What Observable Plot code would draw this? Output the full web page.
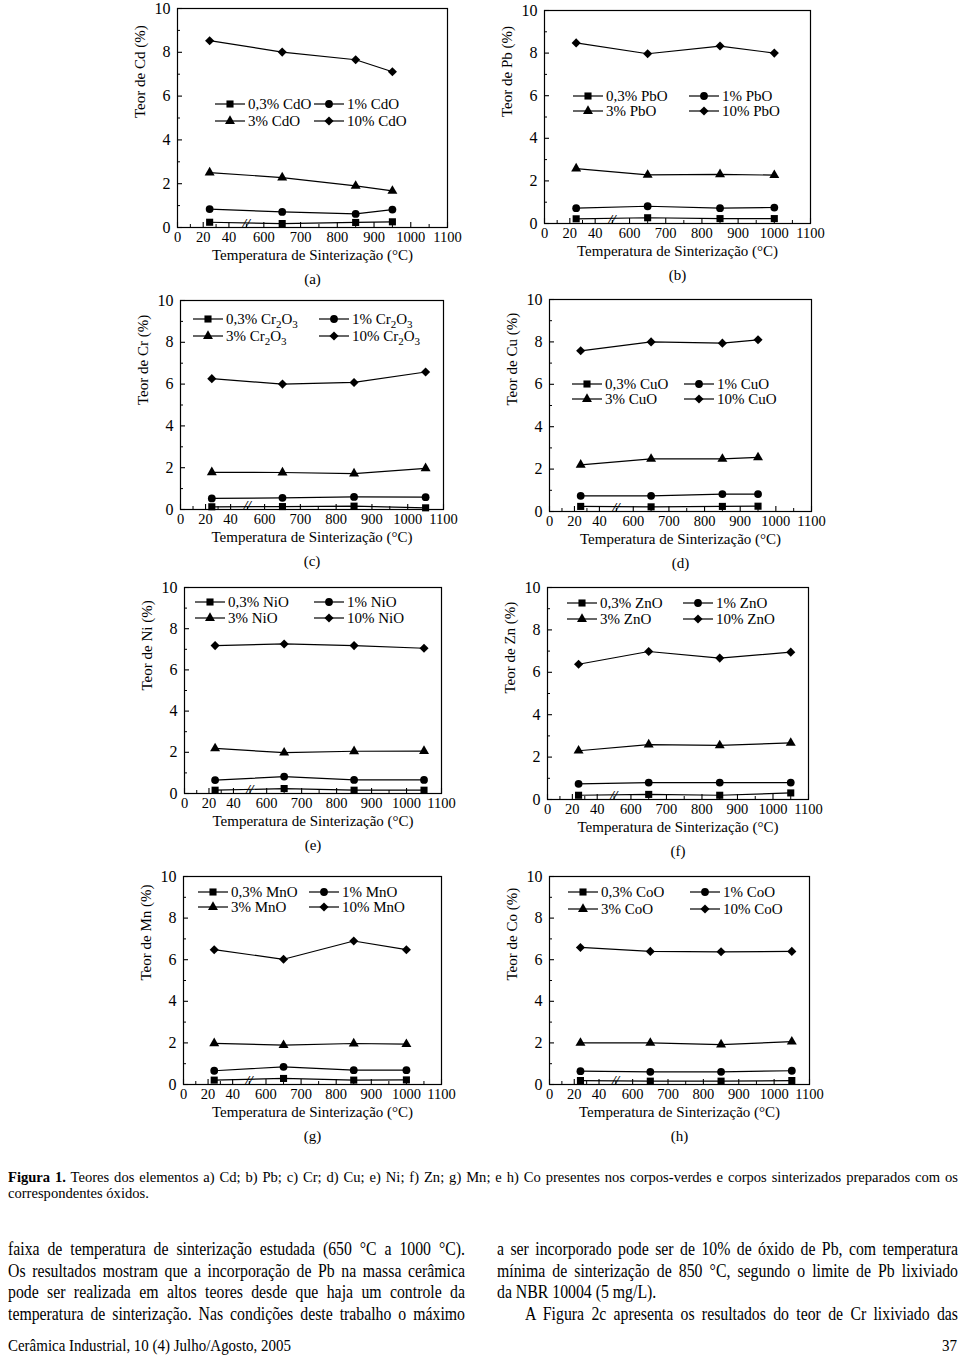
<!DOCTYPE html>
<html><head><meta charset="utf-8">
<script src="https://cdn.jsdelivr.net/npm/d3@7"></script>
<script src="https://cdn.jsdelivr.net/npm/@observablehq/plot@0.6"></script>
<style>
html,body{margin:0;padding:0;background:#fff;}
#page{position:relative;width:960px;height:1356px;background:#fff;font-family:"Liberation Serif","Times New Roman",serif;color:#000;overflow:hidden;}
.panel{position:absolute;}
.line{position:absolute;text-align:justify;text-align-last:justify;transform-origin:0 0;white-space:nowrap;}
.left{text-align:left;text-align-last:left;}
</style></head>
<body><div id="page"></div>
<script>
// ---------- data ----------
const seriesPct = ["0,3%", "1%", "3%", "10%"];
const xTickLabels = [0, 20, 40, 600, 700, 800, 900, 1000, 1100];
const yTickLabels = [0, 2, 4, 6, 8, 10];
const yMinorTicks = [1, 3, 5, 7, 9];

const tCd = [25, 650, 850, 950];
const cd03 = [0.24, 0.18, 0.23, 0.26];
const cd1  = [0.84, 0.71, 0.62, 0.82];
const cd3  = [2.51, 2.28, 1.90, 1.67];
const cd10 = [8.53, 8.01, 7.66, 7.11];

const tPb = [25, 650, 850, 1000];
const pb03 = [0.22, 0.27, 0.23, 0.23];
const pb1  = [0.72, 0.81, 0.72, 0.75];
const pb3  = [2.58, 2.28, 2.31, 2.27];
const pb10 = [8.48, 7.97, 8.33, 8.00];

const tCr = [25, 650, 850, 1050];
const cr03 = [0.13, 0.14, 0.16, 0.08];
const cr1  = [0.53, 0.56, 0.60, 0.59];
const cr3  = [1.78, 1.77, 1.72, 1.97];
const cr10 = [6.26, 6.00, 6.08, 6.58];

const tCu = [25, 650, 850, 950];
const cu03 = [0.24, 0.22, 0.24, 0.25];
const cu1  = [0.74, 0.74, 0.82, 0.82];
const cu3  = [2.20, 2.48, 2.48, 2.55];
const cu10 = [7.58, 8.00, 7.94, 8.10];

const tNi = [25, 650, 850, 1050];
const ni03 = [0.16, 0.24, 0.16, 0.16];
const ni1  = [0.65, 0.82, 0.66, 0.66];
const ni3  = [2.19, 1.98, 2.05, 2.06];
const ni10 = [7.18, 7.26, 7.18, 7.05];

const tZn = [25, 650, 850, 1050];
const zn03 = [0.20, 0.24, 0.20, 0.31];
const zn1  = [0.74, 0.80, 0.80, 0.80];
const zn3  = [2.30, 2.59, 2.55, 2.67];
const zn10 = [6.38, 6.98, 6.67, 6.95];

const tMn = [25, 650, 850, 1000];
const mn03 = [0.21, 0.29, 0.21, 0.22];
const mn1  = [0.66, 0.85, 0.69, 0.69];
const mn3  = [1.98, 1.89, 1.97, 1.94];
const mn10 = [6.48, 6.02, 6.90, 6.48];

const tCo = [25, 650, 850, 1050];
const co03 = [0.19, 0.16, 0.16, 0.19];
const co1  = [0.64, 0.61, 0.61, 0.66];
const co3  = [2.00, 2.00, 1.92, 2.06];
const co10 = [6.59, 6.40, 6.38, 6.40];

const xTitle = "Temperatura de Sinterização (°C)";
const captionBold = "Figura 1.";
const captionText = " Teores dos elementos a) Cd; b) Pb; c) Cr; d) Cu; e) Ni; f) Zn; g) Mn; e h) Co presentes nos corpos-verdes e corpos sinterizados preparados com os";
const captionLine2 = "correspondentes óxidos.";
const bodyCol1 = [
  "faixa de temperatura de sinterização estudada (650 °C a 1000 °C).",
  "Os resultados mostram que a incorporação de Pb na massa cerâmica",
  "pode ser realizada em altos teores desde que haja um controle da",
  "temperatura de sinterização. Nas condições deste trabalho o máximo"
];
const bodyCol2 = [
  "a ser incorporado pode ser de 10% de óxido de Pb, com temperatura",
  "mínima de sinterização de 850 °C, segundo o limite de Pb lixiviado",
  "da NBR 10004 (5 mg/L).",
  "A Figura 2c apresenta os resultados do teor de Cr lixiviado das"
];
const footerLeft = "Cerâmica Industrial, 10 (4) Julho/Agosto, 2005";
const footerRight = "37";

// ---------- panel definitions (data refs + layout) ----------
const panels = [
  {letter:"(a)", el:"Cd", ox:[["CdO",0]], t:tCd, s:[cd03,cd1,cd3,cd10], L:177, T:8,   R:447, B:227, lx:[38,137], ly:[96,113]},
  {letter:"(b)", el:"Pb", ox:[["PbO",0]], t:tPb, s:[pb03,pb1,pb3,pb10], L:544, T:10,  R:810, B:223, lx:[29,145], ly:[86,101]},
  {letter:"(c)", el:"Cr", ox:[["Cr",0],["2",1],["O",0],["3",1]], t:tCr, s:[cr03,cr1,cr3,cr10], L:180, T:300, R:443, B:509, lx:[13,139], ly:[19,36]},
  {letter:"(d)", el:"Cu", ox:[["CuO",0]], t:tCu, s:[cu03,cu1,cu3,cu10], L:549, T:299, R:811, B:511, lx:[23,135], ly:[85,100]},
  {letter:"(e)", el:"Ni", ox:[["NiO",0]], t:tNi, s:[ni03,ni1,ni3,ni10], L:184, T:587, R:441, B:793, lx:[11,130], ly:[15,31]},
  {letter:"(f)", el:"Zn", ox:[["ZnO",0]], t:tZn, s:[zn03,zn1,zn3,zn10], L:547, T:587, R:808, B:799, lx:[20,136], ly:[16,32]},
  {letter:"(g)", el:"Mn", ox:[["MnO",0]], t:tMn, s:[mn03,mn1,mn3,mn10], L:183, T:876, R:441, B:1084, lx:[15,126], ly:[16,31]},
  {letter:"(h)", el:"Co", ox:[["CoO",0]], t:tCo, s:[co03,co1,co3,co10], L:549, T:876, R:809, B:1084, lx:[19,141], ly:[16,33]}
];

// broken x axis: 0–40 region, then 600–1100
function pos(t) { return t <= 40 ? t * 3.5 : 235 + (t - 600); }
const majorPos = xTickLabels.map(pos);
const minorPos = d3.pairs(majorPos).map(([a, b]) => (a + b) / 2);
const labelByPos = new Map(majorPos.map((p, i) => [p, String(xTickLabels[i])]));
const breakPos = (pos(40) + pos(600)) / 2;

const symbols = ["square", "circle", "triangle", "diamond2"];
const symbolR = [4.0, 3.9, 3.7, 4.1];
const d3Symbols = [d3.symbolSquare, d3.symbolCircle, d3.symbolTriangle, d3.symbolDiamond2];

const page = document.getElementById("page");
const mL = 58, mR = 12, mT = 12, mB = 70;
const serif = '"Liberation Serif", "Times New Roman", serif';

panels.forEach(p => {
  const fw = p.R - p.L, fh = p.B - p.T;
  const rows = [];
  p.s.forEach((vals, k) => vals.forEach((v, i) => rows.push({k, t: p.t[i], v})));
  const marks = [
    Plot.frame({stroke: "black", strokeWidth: 1.2}),
    Plot.axisX(majorPos, {tickSize: -5, tickPadding: 9, tickFormat: d => labelByPos.get(d), fontSize: 14.5, label: null, strokeWidth: 1.1}),
    Plot.axisX(minorPos, {tickSize: -3, tickPadding: 0, tickFormat: () => "", label: null, strokeWidth: 1}),
    Plot.axisY(yTickLabels, {tickSize: -5, tickPadding: 12, fontSize: 16, label: null, strokeWidth: 1.1}),
    Plot.axisY(yMinorTicks, {tickSize: -3, tickPadding: 0, tickFormat: () => "", label: null, strokeWidth: 1}),
    Plot.text([breakPos], {x: d => d, frameAnchor: "bottom", text: () => "//", fontSize: 13, fontStyle: "italic", fontWeight: "bold", dy: -1}),
    Plot.text([xTitle], {text: d => d, frameAnchor: "bottom", dy: 32, fontSize: 15}),
    Plot.text([p.letter], {text: d => d, frameAnchor: "bottom", dy: 56, fontSize: 15}),
    Plot.text([`Teor de ${p.el} (%)`], {text: d => d, frameAnchor: "left", rotate: -90, dx: -37, fontSize: 15})
  ];
  p.s.forEach((vals, k) => {
    const d = rows.filter(r => r.k === k);
    marks.push(Plot.line(d, {x: r => pos(r.t), y: "v", stroke: "black", strokeWidth: 1.2}));
    marks.push(Plot.dot(d, {x: r => pos(r.t), y: "v", symbol: symbols[k], r: symbolR[k], fill: "black", stroke: "none"}));
  });
  const svg = Plot.plot({
    width: mL + fw + mR, height: mT + fh + mB,
    marginLeft: mL, marginRight: mR, marginTop: mT, marginBottom: mB,
    style: {fontFamily: serif, fontSize: "15px", background: "transparent", color: "black", overflow: "visible"},
    x: {domain: [0, pos(1100)], axis: null},
    y: {domain: [0, 10], axis: null},
    marks
  });
  // legend
  const g = d3.select(svg).append("g")
    .attr("transform", `translate(${mL},${mT})`)
    .attr("font-family", serif)
    .attr("font-size", 15)
    .attr("text-anchor", "start");
  const items = [[0, 0], [1, 0], [0, 1], [1, 1]]; // [col,row] for each series
  items.forEach(([c, r], k) => {
    const x0 = p.lx[c], y0 = p.ly[r];
    g.append("line").attr("x1", x0).attr("x2", x0 + 30).attr("y1", y0).attr("y2", y0)
      .attr("stroke", "black").attr("stroke-width", 1.2);
    g.append("path").attr("transform", `translate(${x0 + 15},${y0})`)
      .attr("d", d3.symbol(d3Symbols[k], Math.PI * symbolR[k] * symbolR[k])()).attr("fill", "black");
    const txt = g.append("text").attr("x", x0 + 33).attr("y", y0).attr("dy", "0.35em")
      .attr("text-anchor", "start").attr("fill", "black");
    txt.append("tspan").text(seriesPct[k] + " ");
    let shifted = false;
    p.ox.forEach(([s, sub]) => {
      if (sub) { txt.append("tspan").attr("font-size", 11).attr("dy", 4).text(s); shifted = true; }
      else { txt.append("tspan").attr("dy", shifted ? -4 : 0).text(s); shifted = false; }
    });
  });
  const wrap = document.createElement("div");
  wrap.className = "panel";
  wrap.style.left = (p.L - mL) + "px";
  wrap.style.top = (p.T - mT) + "px";
  wrap.appendChild(svg);
  page.appendChild(wrap);
});

// caption and running text
function addLine(html, left, top, width, fontSize, scale, cls) {
  const d = document.createElement("div");
  d.className = "line" + (cls ? " " + cls : "");
  d.style.left = left + "px";
  d.style.top = top + "px";
  d.style.width = (width / scale) + "px";
  d.style.fontSize = fontSize + "px";
  d.style.lineHeight = "1";
  d.style.transform = `scaleX(${scale})`;
  d.innerHTML = html;
  page.appendChild(d);
}
addLine(`<b>${captionBold}</b>${captionText}`, 8, 1169, 950, 15.5, 0.94);
addLine(captionLine2, 8, 1185, 950, 15.5, 0.94, "left");
bodyCol1.forEach((s, i) => addLine(s, 8, 1239 + i * 21.7, 457, 19.5, 0.81));
bodyCol2.forEach((s, i) => {
  if (i === 2) addLine(s, 497, 1239 + i * 21.7, 461, 19.5, 0.81, "left");
  else if (i === 3) addLine(s, 525, 1239 + i * 21.7, 433, 19.5, 0.81);
  else addLine(s, 497, 1239 + i * 21.7, 461, 19.5, 0.81);
});
addLine(footerLeft, 8, 1337, 400, 17, 0.88, "left");
addLine(footerRight, 942, 1337, 20, 17, 0.88, "left");
</script>
</body></html>
